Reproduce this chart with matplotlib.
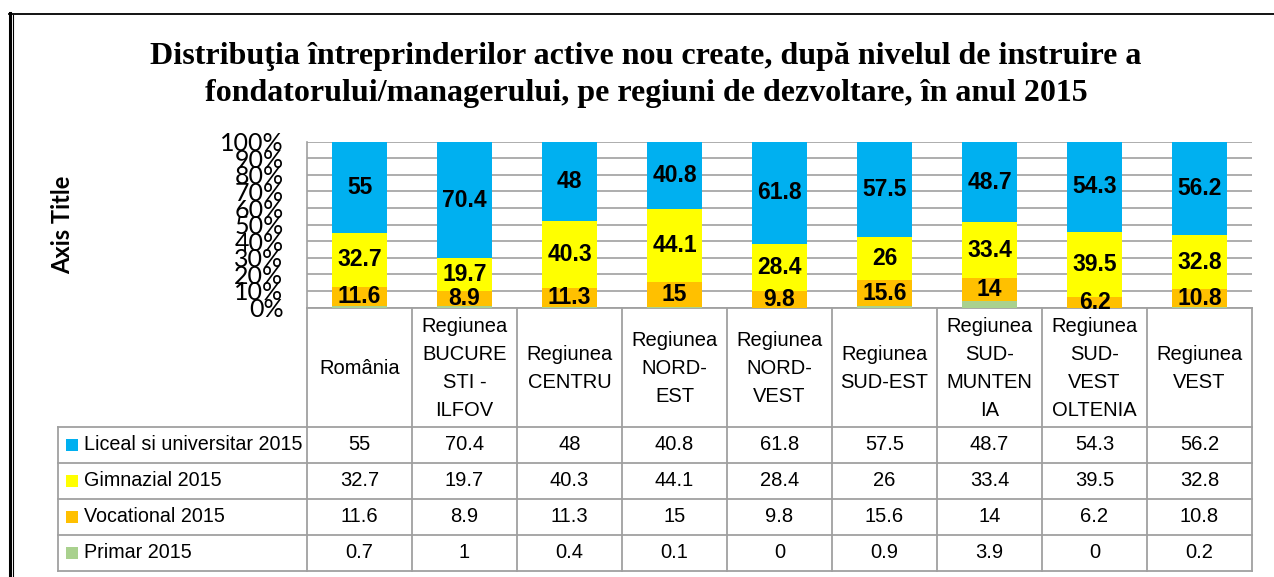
import matplotlib
matplotlib.use("Agg")
import matplotlib.pyplot as plt
from matplotlib.lines import Line2D
from matplotlib.patches import Rectangle
from matplotlib import font_manager
import numpy as np

# ---------------- data ----------------
categories = ["România", "Regiunea\nBUCURE\nSTI -\nILFOV", "Regiunea\nCENTRU",
              "Regiunea\nNORD-\nEST", "Regiunea\nNORD-\nVEST", "Regiunea\nSUD-EST",
              "Regiunea\nSUD-\nMUNTEN\nIA", "Regiunea\nSUD-\nVEST\nOLTENIA", "Regiunea\nVEST"]
series_names = ["Liceal si universitar 2015", "Gimnazial 2015", "Vocational 2015", "Primar 2015"]
liceal = [55, 70.4, 48, 40.8, 61.8, 57.5, 48.7, 54.3, 56.2]
gimnazial = [32.7, 19.7, 40.3, 44.1, 28.4, 26, 33.4, 39.5, 32.8]
vocational = [11.6, 8.9, 11.3, 15, 9.8, 15.6, 14, 6.2, 10.8]
primar = [0.7, 1, 0.4, 0.1, 0, 0.9, 3.9, 0, 0.2]
yticklabels = ["0%", "10%", "20%", "30%", "40%", "50%", "60%", "70%", "80%", "90%", "100%"]
title = ("Distribuţia întreprinderilor active nou create, după nivelul de instruire a\n"
         "fondatorului/managerului, pe regiuni de dezvoltare, în anul 2015")

colors = ["#00B0F0", "#FFFF00", "#FFC000", "#A9D18E"]

avail = {f.name for f in font_manager.fontManager.ttflist}
def pick(*names):
    for n in names:
        if n in avail:
            return n
    return "DejaVu Sans"

SANS = pick("Liberation Sans", "Arial")
CAL = pick("Lato", "Open Sans", "Liberation Sans")
SERIF = pick("Liberation Serif", "DejaVu Serif")

W, H = 1274, 577
fig = plt.figure(figsize=(W / 100, H / 100), dpi=100)
fig.patch.set_facecolor("white")

def fx(px):
    return px / W

def fy(py):
    return 1 - py / H

# ---------------- outer frame ----------------
fig.add_artist(Line2D([fx(9.5), fx(9.5)], [fy(13), fy(577)], color="black", lw=2.2))
fig.add_artist(Line2D([fx(12.5), fx(12.5)], [fy(15), fy(577)], color="black", lw=0.8))
fig.add_artist(Line2D([fx(9), fx(1274)], [fy(13.5), fy(13.5)], color="black", lw=1.3))

# ---------------- title ----------------
fig.text(fx(646), fy(75), title, ha="center", va="center", fontsize=23,
         fontweight="bold", family=SERIF, linespacing=1.36)

# ---------------- table ----------------
PX_L, PX_R, PX_T, PX_B = 58, 1252, 308, 571
colw = (PX_R - 307) / len(categories)
legw = (307 - PX_L) / colw
header_h = 119
row_h = 36
tax = fig.add_axes([fx(PX_L), fy(PX_B), fx(PX_R) - fx(PX_L), (PX_B - PX_T) / H])
x0 = -0.5 - legw
tax.set_xlim(x0, len(categories) - 0.5)
tax.set_ylim(PX_B - PX_T, 0)
tax.axis("off")
gc = "#A0A0A0"
glw = 1.3
n = len(categories)
total_h = header_h + row_h * len(series_names)
for i in range(n + 1):
    tax.plot([i - 0.5, i - 0.5], [0, total_h], color=gc, lw=glw, clip_on=False,
             solid_capstyle="projecting")
tax.plot([x0, x0], [header_h, total_h], color=gc, lw=glw, clip_on=False)
tax.plot([-0.5, n - 0.5], [0, 0], color=gc, lw=glw, clip_on=False)
for r in range(len(series_names) + 1):
    yy = header_h + r * row_h
    tax.plot([x0, n - 0.5], [yy, yy], color=gc, lw=glw, clip_on=False)

for i, c in enumerate(categories):
    tax.text(i, header_h / 2 + 1, c, ha="center", va="center", fontsize=14.5,
             family=SANS, linespacing=1.62)

table_vals = [liceal, gimnazial, vocational, primar]
for r, (name, vals, col) in enumerate(zip(series_names, table_vals, colors)):
    yc = header_h + (r + 0.5) * row_h
    sw = 12
    tax.add_patch(Rectangle((x0 + 8 / colw, yc - sw / 2), sw / colw, sw,
                            facecolor=col, edgecolor="none"))
    tax.text(x0 + 26 / colw, yc, name, ha="left", va="center", fontsize=14.2, family=SANS)
    for i, v in enumerate(vals):
        tax.text(i, yc, f"{v:g}", ha="center", va="center", fontsize=14.5, family=SANS)

# ---------------- bars ----------------
PLOT_T, PLOT_B = 141.7, 307.5
ax = fig.add_axes([fx(307), fy(PLOT_B), fx(1252) - fx(307), (PLOT_B - PLOT_T) / H])
ax.set_facecolor("none")
x = np.arange(n)
data = np.array([primar, vocational, gimnazial, liceal], dtype=float)
totals = data.sum(axis=0)
shares = data / totals * 100
stack_cols = [colors[3], colors[2], colors[1], colors[0]]
raw_labels = [None, vocational, gimnazial, liceal]
bottom = np.zeros(n)
for k in range(4):
    ax.bar(x, shares[k], 0.52, bottom=bottom, color=stack_cols[k], zorder=2)
    if raw_labels[k] is not None:
        for i in range(n):
            ax.text(x[i], bottom[i] + shares[k][i] / 2, f"{raw_labels[k][i]:g}",
                    ha="center", va="center", fontsize=16.5, fontweight="bold",
                    family=SANS, zorder=5, clip_on=False)
    bottom += shares[k]

ax.set_xlim(-0.5, n - 0.5)
ax.set_ylim(0, 100)
ax.set_yticks(np.arange(0, 101, 10))
ax.set_yticklabels(yticklabels, fontsize=18, family=CAL)
ax.tick_params(axis="y", length=0, pad=17)
ax.tick_params(axis="x", length=0, labelbottom=False)
ax.grid(axis="y", color=gc, lw=1.2, zorder=0)
for s in ["top", "right", "bottom"]:
    ax.spines[s].set_visible(False)
ax.spines["left"].set_color(gc)
ax.spines["left"].set_linewidth(1.2)

fig.text(fx(63), fy(225), "Axis Title", rotation=90, ha="center", va="center",
         fontsize=17, fontweight="bold", family=CAL)

fig.savefig("out.png", dpi=100)
